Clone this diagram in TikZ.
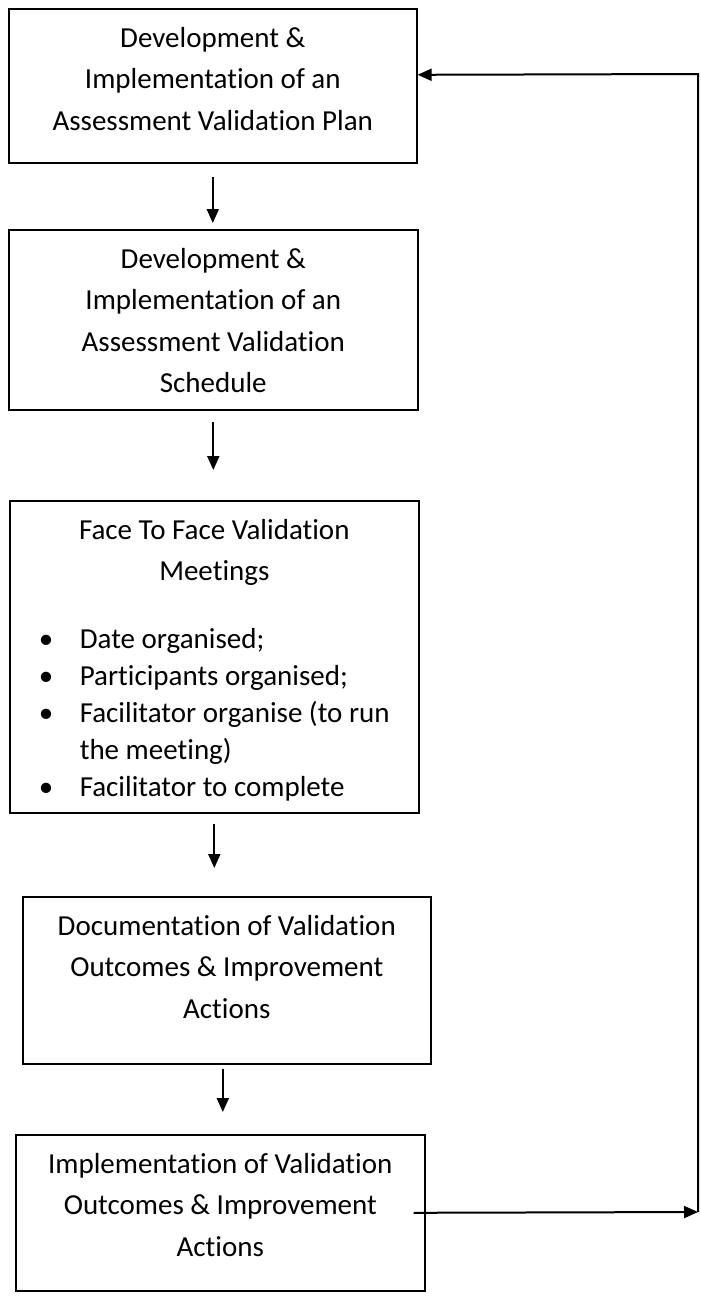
\documentclass[tikz,border=0pt]{standalone}
\usepackage{fontspec}
\setmainfont{Carlito}[Ligatures=CommonOff]
\usepackage{tikz}
\usetikzlibrary{arrows.meta}

% box contents: fixed height, text from the top
\newcommand{\boxtext}[3]{\parbox[t][#1][t]{#2}{\baselineskip=41.5pt\centering\rule{0pt}{38.5pt}#3}}
\newcommand{\bulletline}[1]{\par\hspace*{29pt}\makebox[41pt][l]{\textbullet}#1}

\begin{document}
\begin{tikzpicture}[x=1pt,y=-1pt,font=\fontsize{29pt}{41.5pt}\selectfont]
        \tikzstyle{stage box}=[draw,line width=1.6pt,inner sep=0,anchor=north west]
        \tikzstyle{flow}=[line width=2pt,-{Triangle[length=14pt,width=12pt]}]
        \useasboundingbox (0,0) rectangle (701,1296);

        \node(plan)[stage box] at (8,8) {\boxtext{154pt}{408pt}{Development \&\\Implementation of an\\Assessment Validation Plan}};
        \node(schedule)[stage box] at (8,229) {\boxtext{180pt}{409pt}{Development \&\\Implementation of an\\Assessment Validation\\Schedule}};
        \node(meetings)[stage box] at (9,500) {\parbox[t][312pt][t]{409pt}{\baselineskip=41.5pt\centering\rule{0pt}{38.5pt}Face To Face Validation\\Meetings\par
            \raggedright\baselineskip=37pt\vspace{31pt}
            \bulletline{Date organised;}
            \bulletline{Participants organised;}
            \bulletline{Facilitator organise (to run}
            \par\hspace*{70pt}the meeting)
            \bulletline{Facilitator to complete}}};
        \node(docs)[stage box] at (22,896) {\boxtext{167pt}{408pt}{Documentation of Validation\\Outcomes \& Improvement\\Actions}};
        \node(outcomes)[stage box] at (15,1134) {\boxtext{156pt}{409pt}{Implementation of Validation\\Outcomes \& Improvement\\Actions}};

        \draw[flow,shorten <=13pt,shorten >=6pt] (plan.south) -- (plan.south |- schedule.north);
        \draw[flow,shorten <=11pt,shorten >=30pt] (schedule.south) -- (schedule.south |- meetings.north);
        \draw[flow,shorten <=10pt,shorten >=28pt] (meetings.south) -- (meetings.south |- docs.north);
        \draw[flow,shorten <=4pt,shorten >=22pt] ([xshift=-4pt]docs.south) -- ([xshift=-4pt]docs.south |- outcomes.north);

        % loop back to the plan
        \coordinate (corner) at (698,1212);
        \draw[flow] ([xshift=-12pt]outcomes.east) -- (corner);
        \draw[flow] (corner) -- (corner |- 0,74) -- ([yshift=11pt]plan.east);
\end{tikzpicture}
\end{document}
